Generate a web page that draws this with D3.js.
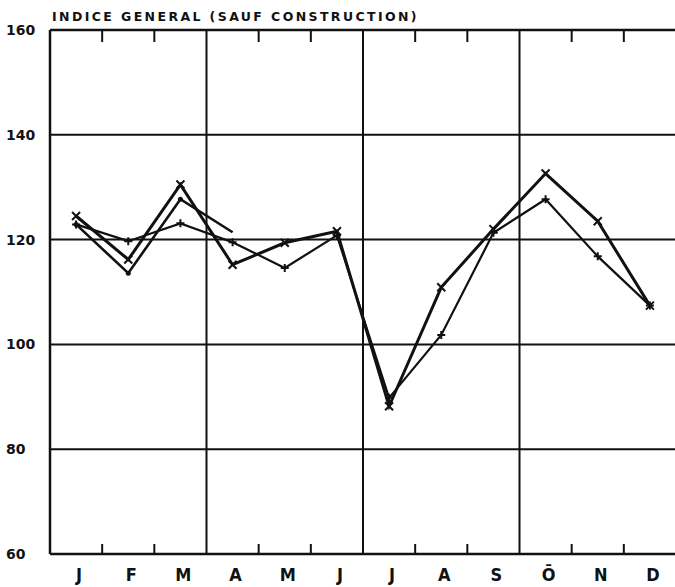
<!DOCTYPE html>
<html>
<head>
  <title>Indice general</title>
  <meta charset="utf-8" />
  <script src="https://d3js.org/d3.v7.min.js"></script>
  <style>
  body { margin:0; background:#fff; }
  text { fill:#111; font-weight:bold; font-family:"DejaVu Sans", sans-serif; }
  </style>
</head>
<body>
  <script>
  var months = ["J","F","M","A","M","J","J","A","S","Ō","N","D"];
  var yTicks = [60, 80, 100, 120, 140, 160];
  // thick line, x markers
  var serieX = [124.5, 116.2, 130.5, 115.2, 119.4, 121.6, 88.2, 110.9, 122.0, 132.6, 123.5, 107.4];
  // thinner line, + markers
  var seriePlus = [122.9, 119.7, 123.1, 119.5, 114.6, 120.8, 89.8, 101.8, 121.3, 127.7, 116.8, 107.4];
  // short line, stops in april
  var serieCourte = [122.9, 113.6, 127.7, 121.4];

  var W = 675, H = 587;
  var svg = d3.select("body").append("svg")
    .attr("width", W)
    .attr("height", H);

  var x = d3.scaleLinear().domain([0, 12]).range([50, 676]);
  var y = d3.scaleLinear().domain([60, 160]).range([554, 30]);
  var ink = "#111";

  // title
  svg.append("text").attr("x", 52).attr("y", 21)
    .style("font-size", "12.5px")
    .style("letter-spacing", "2.4px")
    .text("INDICE GENERAL (SAUF CONSTRUCTION)");

  // horizontal grid
  svg.selectAll(".hg").data(yTicks).enter().append("line")
    .attr("x1", x(0)).attr("x2", x(12))
    .attr("y1", function(d) { return y(d); })
    .attr("y2", function(d) { return y(d); })
    .attr("stroke", ink)
    .attr("stroke-width", function(d) { return (d == 60 || d == 160) ? 2.5 : 2; });

  // left border + quarter lines
  svg.selectAll(".vg").data([0, 3, 6, 9]).enter().append("line")
    .attr("x1", function(d) { return x(d); })
    .attr("x2", function(d) { return x(d); })
    .attr("y1", y(160)).attr("y2", y(60))
    .attr("stroke", ink)
    .attr("stroke-width", function(d) { return d == 0 ? 2.5 : 2; });

  // month ticks, top and bottom
  var minor = [1, 2, 4, 5, 7, 8, 10, 11];
  svg.selectAll(".tt").data(minor).enter().append("line")
    .attr("x1", function(d) { return x(d); }).attr("x2", function(d) { return x(d); })
    .attr("y1", y(160)).attr("y2", y(160) + 12)
    .attr("stroke", ink).attr("stroke-width", 2);
  svg.selectAll(".tb").data(minor).enter().append("line")
    .attr("x1", function(d) { return x(d); }).attr("x2", function(d) { return x(d); })
    .attr("y1", y(60)).attr("y2", y(60) - 10)
    .attr("stroke", ink).attr("stroke-width", 2);

  // y labels
  svg.selectAll(".yl").data(yTicks).enter().append("text")
    .attr("x", 6)
    .attr("y", function(d) { return y(d) + 5; })
    .style("font-size", "14px")
    .text(function(d) { return d; });

  // month labels
  svg.selectAll(".ml").data(months).enter().append("text")
    .attr("x", function(d, i) { return x(i + 0.5) + 3; })
    .attr("y", 581)
    .attr("text-anchor", "middle")
    .style("font-family", "'DejaVu Sans Condensed', 'DejaVu Sans', sans-serif")
    .style("font-size", "18px")
    .text(function(d) { return d; });

  var line = d3.line()
    .x(function(d, i) { return x(i + 0.5); })
    .y(function(d) { return y(d); });

  svg.append("path").datum(seriePlus).attr("d", line)
    .attr("fill", "none").attr("stroke", ink).attr("stroke-width", 2.2);
  svg.append("path").datum(serieCourte).attr("d", line)
    .attr("fill", "none").attr("stroke", ink).attr("stroke-width", 2.6);
  svg.append("path").datum(serieX).attr("d", line)
    .attr("fill", "none").attr("stroke", ink).attr("stroke-width", 3);

  // markers
  var m = 4;
  serieX.forEach(function(v, i) {
    var cx = x(i + 0.5), cy = y(v);
    svg.append("path")
      .attr("d", "M" + (cx - m) + "," + (cy - m) + "L" + (cx + m) + "," + (cy + m) +
                 "M" + (cx - m) + "," + (cy + m) + "L" + (cx + m) + "," + (cy - m))
      .attr("stroke", ink).attr("stroke-width", 2);
  });
  seriePlus.forEach(function(v, i) {
    var cx = x(i + 0.5), cy = y(v);
    svg.append("path")
      .attr("d", "M" + (cx - m) + "," + cy + "L" + (cx + m) + "," + cy +
                 "M" + cx + "," + (cy - m) + "L" + cx + "," + (cy + m))
      .attr("stroke", ink).attr("stroke-width", 2);
  });
  serieCourte.slice(0, 3).forEach(function(v, i) {
    svg.append("circle").attr("cx", x(i + 0.5)).attr("cy", y(v)).attr("r", 2.5)
      .attr("fill", ink);
  });
  </script>
</body>
</html>
